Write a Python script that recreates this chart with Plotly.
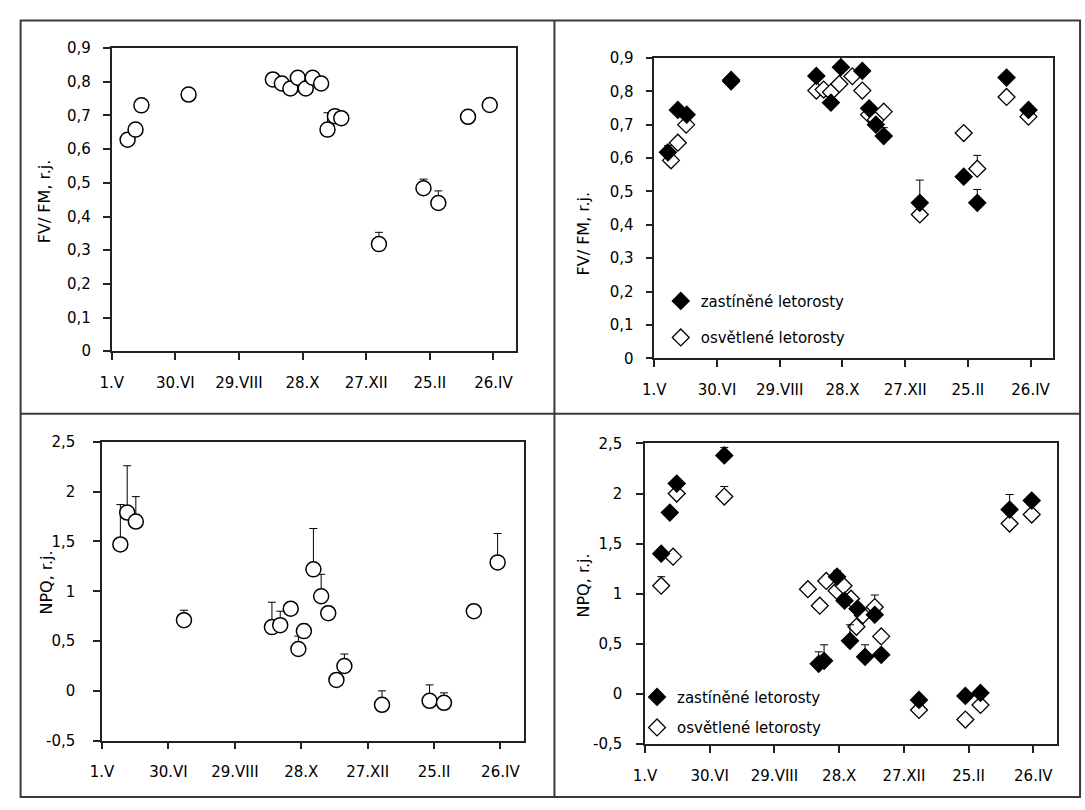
import plotly.graph_objects as go

W, H = 1085, 810

# ---------------- data (x = days after 1 May) ----------------
x_tick_days = [0, 60, 120, 180, 240, 300, 360]
x_tick_labels = ["1.V", "30.VI", "29.VIII", "28.X", "27.XII", "25.II", "26.IV"]

fv_ticks = [0, 0.1, 0.2, 0.3, 0.4, 0.5, 0.6, 0.7, 0.8, 0.9]
fv_tick_labels = ["0", "0,1", "0,2", "0,3", "0,4", "0,5", "0,6", "0,7", "0,8", "0,9"]
npq_ticks = [-0.5, 0, 0.5, 1, 1.5, 2, 2.5]
npq_tick_labels = ["-0,5", "0", "0,5", "1", "1,5", "2", "2,5"]

# top-left: FV/FM, all shoots
tl_day = [15, 22.5, 28, 72.5, 152, 160.5, 168.5, 175.5, 183, 189.5, 197.5, 203.5, 210.5, 216.5, 252, 294, 308, 336, 356.5]
tl_val = [0.628, 0.658, 0.73, 0.762, 0.807, 0.795, 0.78, 0.812, 0.78, 0.812, 0.795, 0.658, 0.698, 0.692, 0.318, 0.484, 0.44, 0.696, 0.731]
tl_err = [0, 0, 0, 0, 0, 0, 0, 0, 0, 0, 0, 0.05, 0, 0, 0.035, 0.027, 0.036, 0, 0]

# top-right: FV/FM, shaded vs. lit shoots
tr_shade_day = [13, 22.5, 31, 73.5, 155, 169, 178.5, 199, 205.5, 212, 219.5, 254, 296, 309, 337, 358]
tr_shade_val = [0.617, 0.744, 0.73, 0.83, 0.846, 0.766, 0.872, 0.861, 0.749, 0.70, 0.666, 0.466, 0.544, 0.466, 0.841, 0.744]
tr_shade_err = [0.02, 0, 0, 0, 0, 0, 0.03, 0, 0, 0, 0.025, 0.068, 0, 0.04, 0, 0]

tr_light_day = [16, 22.5, 30.5, 73.5, 155, 162, 169, 177, 189.5, 199, 205.5, 212, 219.5, 254, 296, 309, 337, 358]
tr_light_val = [0.593, 0.646, 0.70, 0.834, 0.802, 0.805, 0.797, 0.822, 0.845, 0.802, 0.73, 0.715, 0.739, 0.431, 0.675, 0.568, 0.783, 0.724]
tr_light_err = [0, 0, 0, 0, 0, 0, 0, 0, 0, 0, 0, 0, 0, 0, 0, 0.04, 0, 0]

# bottom-left: NPQ, all shoots
bl_day = [16.5, 22.7, 30.5, 74, 153.5, 161, 170.5, 177.4, 182.4, 191, 198, 204.4, 211.8, 219, 253, 296, 309, 336, 357.5]
bl_val = [1.47, 1.79, 1.70, 0.71, 0.64, 0.66, 0.825, 0.42, 0.60, 1.22, 0.95, 0.78, 0.11, 0.25, -0.14, -0.10, -0.12, 0.80, 1.29]
bl_err = [0.40, 0.47, 0.25, 0.10, 0.25, 0.14, 0, 0.13, 0.07, 0.41, 0.22, 0.07, 0, 0.12, 0.14, 0.16, 0.10, 0, 0.29]

# bottom-right: NPQ, shaded vs. lit shoots
br_shade_day = [15, 23, 29.4, 73.5, 161, 166, 178, 185, 190, 197, 204, 213, 219, 254, 297, 311, 338, 358.5]
br_shade_val = [1.40, 1.81, 2.10, 2.38, 0.30, 0.33, 1.17, 0.93, 0.53, 0.85, 0.37, 0.79, 0.39, -0.06, -0.02, 0.01, 1.84, 1.93]
br_shade_err = [0.03, 0.03, 0.05, 0.08, 0.12, 0.16, 0.06, 0, 0.16, 0.05, 0.12, 0, 0, 0, 0, 0.03, 0.15, 0]

br_light_day = [15, 26, 29.4, 73.5, 151, 162, 168, 177.6, 184, 191, 196, 202, 213, 219, 254, 297, 311, 338, 358.5]
br_light_val = [1.08, 1.37, 2.00, 1.97, 1.045, 0.88, 1.127, 1.03, 1.08, 0.95, 0.67, 0.785, 0.867, 0.574, -0.16, -0.256, -0.11, 1.70, 1.79]
br_light_err = [0.09, 0, 0, 0.10, 0, 0.05, 0, 0, 0, 0, 0, 0, 0.12, 0, 0, 0, 0, 0, 0]

label_shade = "zastíněné letorosty"
label_light = "osvětlené letorosty"

# ---------------- helpers ----------------
def px(xp):
    return xp / W

def py(yp):
    return 1 - yp / H

FONT = "DejaVu Sans"

def err(arr):
    return dict(type="data", symmetric=False, array=arr, arrayminus=[0] * len(arr),
                color="black", thickness=1, width=4)

circle = dict(symbol="circle", size=15, color="white", line=dict(color="black", width=1.5))
dia_open = dict(symbol="diamond", size=13, color="white", line=dict(color="black", width=1.3))
dia_full = dict(symbol="diamond", size=13, color="black", line=dict(color="black", width=1.3))

fig = go.Figure()

fig.add_trace(go.Scatter(x=tl_day, y=tl_val, mode="markers", marker=circle, error_y=err(tl_err),
                         showlegend=False, xaxis="x", yaxis="y"))

fig.add_trace(go.Scatter(x=tr_light_day, y=tr_light_val, mode="markers", marker=dia_open,
                         error_y=err(tr_light_err), name=label_light, legend="legend",
                         legendgroup="l1", legendrank=2, xaxis="x2", yaxis="y2"))
fig.add_trace(go.Scatter(x=tr_shade_day, y=tr_shade_val, mode="markers", marker=dia_full,
                         error_y=err(tr_shade_err), name=label_shade, legend="legend",
                         legendgroup="s1", legendrank=1, xaxis="x2", yaxis="y2"))

fig.add_trace(go.Scatter(x=bl_day, y=bl_val, mode="markers", marker=circle, error_y=err(bl_err),
                         showlegend=False, xaxis="x3", yaxis="y3"))

fig.add_trace(go.Scatter(x=br_light_day, y=br_light_val, mode="markers", marker=dia_open,
                         error_y=err(br_light_err), name=label_light, legend="legend2",
                         legendgroup="l2", legendrank=2, xaxis="x4", yaxis="y4"))
fig.add_trace(go.Scatter(x=br_shade_day, y=br_shade_val, mode="markers", marker=dia_full,
                         error_y=err(br_shade_err), name=label_shade, legend="legend2",
                         legendgroup="s2", legendrank=1, xaxis="x4", yaxis="y4"))

# plot-area boxes in pixels: (left, top, right, bottom)
boxes = {
    1: (100.8, 40.0, 509.9, 350.0),
    2: (649.5, 50.0, 1052.7, 357.3),
    3: (91.1, 442.7, 517.9, 748.3),
    4: (640.1, 444.3, 1056.2, 751.7),
}
ystand = {1: 9, 2: 9, 3: 15, 4: 11}

common_axis = dict(showline=True, mirror=True, linecolor="#222", linewidth=1.5, showgrid=False,
                   zeroline=False, ticks="outside", ticklen=7, tickwidth=1.5, tickcolor="#222",
                   tickfont=dict(family=FONT, size=15, color="black"))

layout_axes = {}
for i, (l, t, r, b) in boxes.items():
    sx = "" if i == 1 else str(i)
    yt, yl, yr = (fv_ticks, fv_tick_labels, [0, 0.9]) if i in (1, 2) else (npq_ticks, npq_tick_labels, [-0.5, 2.5])
    layout_axes["xaxis" + sx] = dict(common_axis, domain=[px(l), px(r)], anchor="y" + sx,
                                     range=[0, 381.5], tickmode="array", tickvals=x_tick_days,
                                     ticktext=x_tick_labels, ticklabelstandoff=10)
    layout_axes["yaxis" + sx] = dict(common_axis, domain=[py(b), py(t)], anchor="x" + sx,
                                     range=yr, tickmode="array", tickvals=yt, ticktext=yl,
                                     ticklabelstandoff=ystand[i])

fig.update_layout(**layout_axes)

ytitles = [
    ("FV/ FM, r.j.", 33, 197),
    ("FV/ FM, r.j.", 578, 230),
    ("NPQ, r.j.", 35, 587),
    ("NPQ, r.j.", 578, 590),
]
fig.update_layout(annotations=[
    dict(text=t, x=px(xp), y=py(yp), xref="paper", yref="paper", showarrow=False,
         textangle=-90, xanchor="center", yanchor="middle",
         font=dict(family=FONT, size=16, color="black"))
    for t, xp, yp in ytitles
])

# panel frame
frame_col = "#3a3a3a"
fig.update_layout(shapes=[
    dict(type="rect", xref="paper", yref="paper", x0=px(8.7), x1=px(1080), y0=py(806), y1=py(11.7),
         line=dict(color=frame_col, width=2)),
    dict(type="line", xref="paper", yref="paper", x0=px(548.5), x1=px(548.5), y0=py(806), y1=py(11.7),
         line=dict(color=frame_col, width=2)),
    dict(type="line", xref="paper", yref="paper", x0=px(8.7), x1=px(1080), y0=py(414), y1=py(414),
         line=dict(color=frame_col, width=2)),
])

leg_common = dict(xanchor="left", yanchor="top", bgcolor="rgba(0,0,0,0)", borderwidth=0,
                  font=dict(family=FONT, size=15, color="black"), itemsizing="trace")
fig.update_layout(
    legend=dict(leg_common, x=px(656), y=py(282), tracegroupgap=14),
    legend2=dict(leg_common, x=px(632), y=py(687), tracegroupgap=8),
)

fig.update_layout(width=W, height=H, autosize=False, margin=dict(l=0, r=0, t=0, b=0),
                  paper_bgcolor="white", plot_bgcolor="white",
                  font=dict(family=FONT, size=15, color="black"))

fig.write_html("out.html")
